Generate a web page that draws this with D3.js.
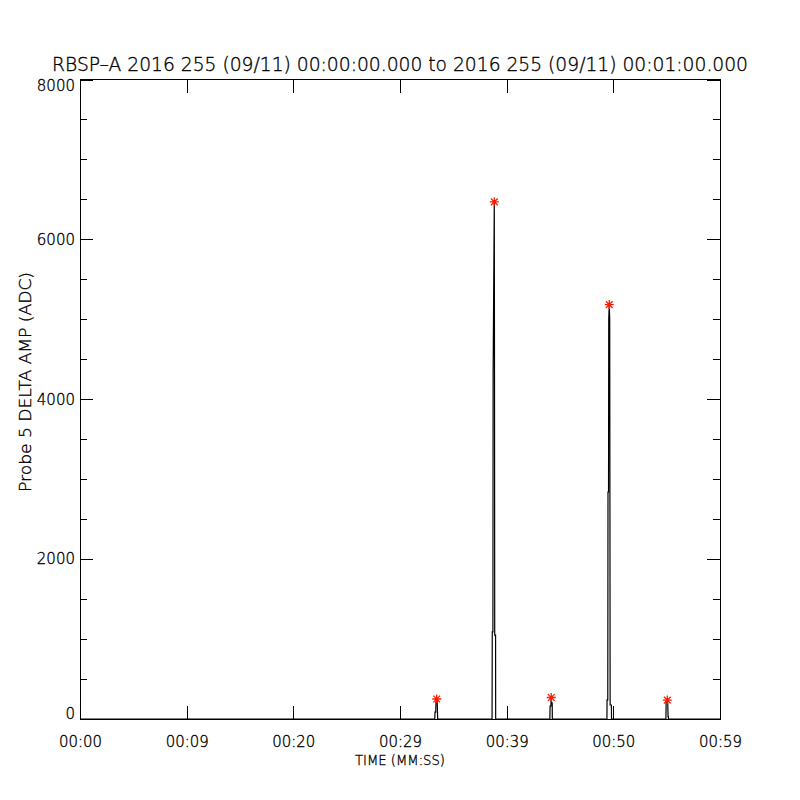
<!DOCTYPE html>
<html>
<head>
<meta charset="utf-8">
<script src="https://cdn.jsdelivr.net/npm/d3@7"></script>
<style>
  body { margin: 0; background: #fff; }
  svg { display: block; }
  text { font-family: "DejaVu Sans", "Liberation Sans", Arial, sans-serif; font-weight: 200; fill: #000; stroke: #000; stroke-width: 0.35px; }
</style>
</head>
<body>
<svg id="chart" width="800" height="800"></svg>
<script>
// ---- data (time in seconds after 00:00:00, amplitude in ADC) ----
const times  = [0, 33.26, 33.28, 33.35, 33.37, 33.44, 33.49, 33.53,
                38.63, 38.65, 38.71, 38.73, 38.84, 38.86, 38.88, 38.96, 38.97,
                44.05, 44.07, 44.14, 44.16, 44.18, 44.22, 44.27, 44.28,
                49.40, 49.41, 49.48, 49.50, 49.55, 49.57, 49.62, 49.66, 49.68, 49.70, 49.82, 49.83,
                54.93, 54.95, 55.00, 55.06, 55.10, 55.13, 55.16, 55.17, 60];
const values = [0, 0, 85, 85, 215, 250, 210, 0,
                0, 1090, 1090, 4330, 6470, 4300, 1050, 1050, 0,
                0, 160, 160, 205, 269, 200, 200, 0,
                0, 240, 240, 2840, 2840, 5010, 5184, 5000, 2840, 175, 175, 0,
                0, 200, 210, 237, 200, 30, 30, 0, 0];
const peakTimes  = [33.44, 38.84, 44.18, 49.62, 55.06];
const peakValues = [250, 6470, 269, 5184, 237];
const xTickValues = [0, 10, 20, 30, 40, 50, 60];
const xTickLabels = ["00:00", "00:09", "00:20", "00:29", "00:39", "00:50", "00:59"];
const yTickValues = [0, 2000, 4000, 6000, 8000];
const yMinorValues = [500, 1000, 1500, 2500, 3000, 3500, 4500, 5000, 5500, 6500, 7000, 7500];
const titleText = "RBSP\u2013A 2016 255 (09/11) 00:00:00.000 to 2016 255 (09/11) 00:01:00.000";
const xTitle = "TIME (MM:SS)";
const yTitle = "Probe 5 DELTA AMP (ADC)";

// ---- layout ----
const L = 80, R = 720, T = 79.5, B = 719;
const svg = d3.select("#chart");
const x = d3.scaleLinear().domain([0, 60]).range([L, R]);
const y = d3.scaleLinear().domain([0, 8000]).range([B, T]);

const major = 13, minor = 7;
const FONT = "DejaVu Sans, Liberation Sans, Arial, sans-serif";

// frame
svg.append("rect").attr("x", L).attr("y", T).attr("width", R - L).attr("height", B - T)
  .attr("fill", "none").attr("stroke", "#000").attr("stroke-width", 1)
  .attr("shape-rendering", "crispEdges");

// x axes (bottom & top) inward ticks
const xb = d3.axisBottom(x).tickValues(xTickValues).tickSizeInner(-major).tickSizeOuter(0)
  .tickFormat((d, i) => xTickLabels[i]).tickPadding(17);
const gxb = svg.append("g").attr("transform", `translate(0,${B})`).call(xb);
gxb.select(".domain").remove();
gxb.selectAll("text").style("font-size", "15px").style("font-family", FONT).style("font-weight", 200)
  .attr("textLength", 43).attr("lengthAdjust", "spacingAndGlyphs");

const xt = d3.axisTop(x).tickValues(xTickValues).tickSizeInner(-major).tickSizeOuter(0).tickFormat("");
const gxt = svg.append("g").attr("transform", `translate(0,${T})`).call(xt);
gxt.select(".domain").remove();

// y axes left (labels) & right
const yl = d3.axisLeft(y).tickValues(yTickValues).tickSizeInner(-major).tickSizeOuter(0)
  .tickFormat(d3.format("d")).tickPadding(5);
const gyl = svg.append("g").attr("transform", `translate(${L},0)`).call(yl);
gyl.select(".domain").remove();
gyl.selectAll("text").style("font-size", "15px").style("font-family", FONT).style("font-weight", 200)
  .attr("x", -5)
  .attr("y", d => (d === 8000 ? 6 : d === 0 ? -5 : 0));
const ylm = d3.axisLeft(y).tickValues(yMinorValues).tickSizeInner(-minor).tickSizeOuter(0).tickFormat("");
const gylm = svg.append("g").attr("transform", `translate(${L},0)`).call(ylm);
gylm.select(".domain").remove();

const yr = d3.axisRight(y).tickValues(yTickValues).tickSizeInner(-major).tickSizeOuter(0).tickFormat("");
const gyr = svg.append("g").attr("transform", `translate(${R},0)`).call(yr);
gyr.select(".domain").remove();
const yrm = d3.axisRight(y).tickValues(yMinorValues).tickSizeInner(-minor).tickSizeOuter(0).tickFormat("");
const gyrm = svg.append("g").attr("transform", `translate(${R},0)`).call(yrm);
gyrm.select(".domain").remove();

svg.selectAll(".tick line").attr("stroke", "#000").attr("shape-rendering", "crispEdges");
svg.selectAll(".tick text").attr("fill", "#000").attr("stroke", "#000").attr("stroke-width", 0.35);

// data line
const pts = times.map((t, i) => [t, values[i]]);
svg.append("path").datum(pts)
  .attr("d", d3.line().x(d => x(d[0])).y(d => y(d[1])))
  .attr("fill", "none").attr("stroke", "#000").attr("stroke-width", 1.2);

// peak asterisks
const s = 4.5;
const star = `M${-s},0L${s},0M0,${-s}L0,${s}M${-s*0.75},${-s*0.75}L${s*0.75},${s*0.75}M${-s*0.75},${s*0.75}L${s*0.75},${-s*0.75}`;
svg.append("g").selectAll("path").data(peakTimes).join("path")
  .attr("transform", (d, i) => `translate(${x(d)},${y(peakValues[i])})`)
  .attr("d", star).attr("stroke", "#ff1a00").attr("stroke-width", 1.3).attr("fill", "none");

// titles
svg.append("text").attr("x", 400).attr("y", 71).attr("text-anchor", "middle")
  .attr("textLength", 696).attr("lengthAdjust", "spacingAndGlyphs")
  .style("font-size", "19px").text(titleText);
svg.append("text").attr("x", 400).attr("y", 765).attr("text-anchor", "middle")
  .attr("textLength", 90).attr("lengthAdjust", "spacingAndGlyphs")
  .style("font-size", "14px").text(xTitle);
svg.append("text").attr("transform", "translate(31,382) rotate(-90)").attr("text-anchor", "middle")
  .attr("textLength", 220).attr("lengthAdjust", "spacingAndGlyphs")
  .style("font-size", "15px").text(yTitle);
</script>
</body>
</html>
